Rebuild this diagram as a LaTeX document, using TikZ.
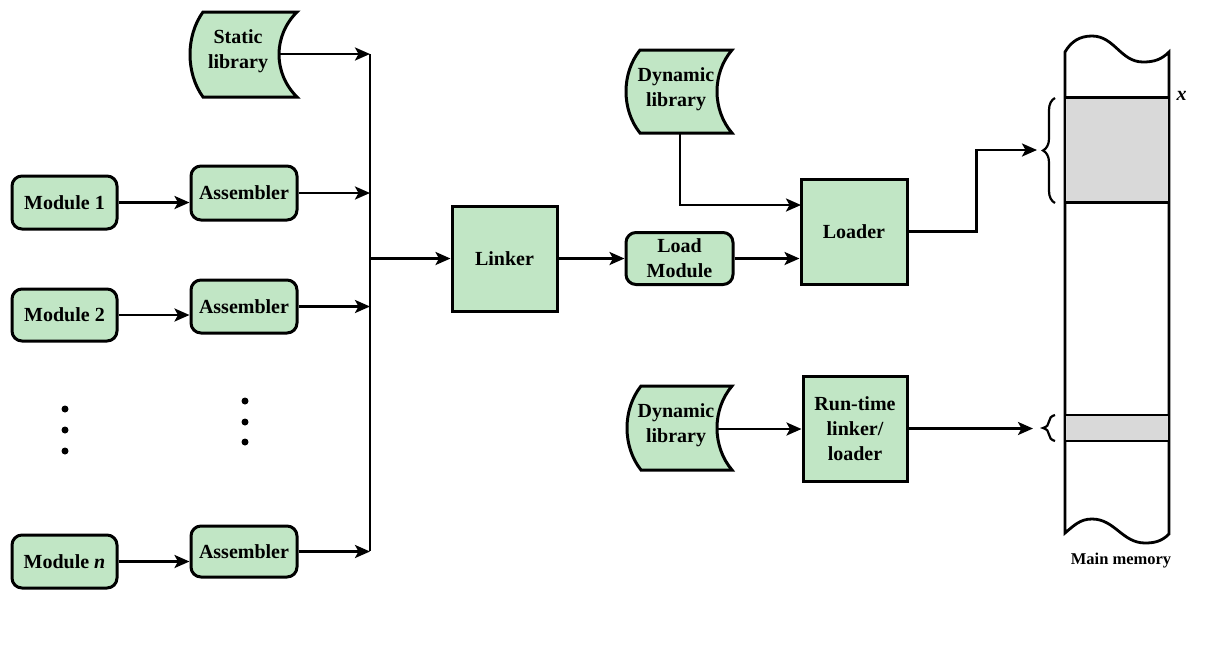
\documentclass[tikz,border=0pt]{standalone}
\usepackage{fontspec}
\setmainfont{Liberation Serif}
\usetikzlibrary{arrows.meta,decorations.pathreplacing}
\definecolor{boxgreen}{RGB}{193,230,197}
\definecolor{memgray}{RGB}{217,217,217}
\tikzset{
  txt/.style={font=\fontsize{20}{25}\selectfont\bfseries, align=center},
  box/.style={draw, line width=3pt, fill=boxgreen},
  rbox/.style={box, txt, rounded corners=10pt, minimum width=105pt, minimum height=53pt, inner sep=0pt},
  sqbox/.style={box, txt, minimum width=105pt, minimum height=105pt, inner sep=0pt},
  arr/.style={line width=2.6pt, -{Stealth[length=15pt,width=13pt,inset=3.5pt]}},
  plain/.style={line width=2.6pt},
  memline/.style={line width=2.8pt},
  brc/.style={line width=2.2pt, decorate, decoration={brace, amplitude=12pt}},
  dot/.style={fill=black},
}
% xl, xr, top, bot, indent, depth
\newcommand\storedshape[6]{%
  \filldraw[box] ({#1+#5},#3) -- (#2,#3)
    .. controls ({#2-4*#6/3},{#3+0.28*(#4-#3)}) and ({#2-4*#6/3},{#4-0.28*(#4-#3)}) .. (#2,#4)
    -- ({#1+#5},#4)
    .. controls ({#1-#5/3},{#4-0.28*(#4-#3)}) and ({#1-#5/3},{#3+0.28*(#4-#3)}) .. cycle;}
\begin{document}
\begin{tikzpicture}[x=1pt,y=-1pt]
\useasboundingbox (0,0) rectangle (1212,646);

% stored-data shapes
\storedshape{190}{297}{12}{97}{13}{18}
\node[txt] (slib) at (238,51) {Static\\library};
\coordinate (slib-e) at (279,54);

\storedshape{626}{732}{50}{133}{14}{15}
\node[txt] (dl1) at (676,89) {Dynamic\\library};
\coordinate (dl1-s) at (680,133);

\storedshape{627}{732}{386}{470}{14}{15}
\node[txt] (dl2) at (676,425) {Dynamic\\library};
\coordinate (dl2-e) at (717,429);

% modules and assemblers
\node[rbox] (mod1) at (64.5,202.5) {Module 1};
\node[rbox, minimum height=52pt] (mod2) at (64.5,315) {Module 2};
\node[rbox] (modn) at (64.5,561.5) {Module \textit{n}};
\node[rbox, minimum width=106pt, minimum height=54pt] (asm1) at (244,193) {Assembler};
\node[rbox, minimum width=106pt] (asm2) at (244,306.5) {Assembler};
\node[rbox, minimum width=106pt, minimum height=51pt] (asmn) at (244,551.5) {Assembler};

% dots
\foreach \y in {409,430,451} \fill[dot] (65,\y) circle (3.5);
\foreach \y in {401,422,442} \fill[dot] (245,\y) circle (3.5);

% bus
\coordinate (bustop) at (370,54);
\coordinate (busbot) at (370,551);
\draw[plain] (bustop) -- (busbot);

% main blocks
\node[sqbox] (linker) at (504.5,258.5) {Linker};
\node[rbox, minimum width=107pt, minimum height=52pt] (lm) at (679.5,258.5) {Load\\Module};
\node[sqbox, minimum width=106pt] (loader) at (854,231.5) {Loader};
\node[sqbox, minimum width=104pt] (rt) at (855,428.5) {Run-time\\linker/\\loader};

% connectors
\draw[arr] (mod1.east) -- (mod1.east -| asm1.west);
\draw[arr] (mod2.east) -- (mod2.east -| asm2.west);
\draw[arr] (modn.east) -- (modn.east -| asmn.west);
\draw[arr] (slib-e) -- (slib-e -| bustop);
\draw[arr] (asm1.east) -- (asm1.east -| bustop);
\draw[arr] (asm2.east) -- (asm2.east -| bustop);
\draw[arr] (asmn.east) -- (asmn.east -| bustop);
\draw[arr] (linker.west -| bustop) -- (linker.west);
\draw[arr] (linker.east) -- (lm.west);
\draw[arr] (lm.east) -- (lm.east -| loader.west);
\coordinate (ldin) at (801,205);
\draw[arr] (dl1-s) |- (ldin);
\draw[arr] (dl2-e) -- (dl2-e -| rt.west);

% main memory
\filldraw[memline, fill=white] (1065,52) to[out=60,in=180] (1092,36) to[out=0,in=180] (1143,62) to[out=0,in=225] (1169,52)
  -- (1169,534) to[out=225,in=0] (1145,543) to[out=180,in=0] (1092,519) to[out=180,in=40] (1065,533) -- cycle;
\node[draw, memline, fill=memgray, minimum width=104pt, minimum height=105pt, inner sep=0pt] (mem1) at (1117,150) {};
\node[draw, memline, fill=memgray, minimum width=104pt, minimum height=26pt, inner sep=0pt] (mem2) at (1117,428) {};
\node[font=\fontsize{20}{22}\selectfont\bfseries\itshape, anchor=west] (xlbl) at (1173,96) {x};
\node[font=\fontsize{16.5}{19}\selectfont\bfseries] (mmlbl) at (1121,561) {Main memory};

\draw[brc] (1055,203) -- (1055,98);
\draw[brc] (1055,441) -- (1055,415);
\coordinate (br1) at (1037,150);
\coordinate (br2) at (1033,428);

\draw[arr] (loader.east) -- ++(68,0) |- (br1);
\draw[arr] (rt.east) -- (rt.east -| br2);
\end{tikzpicture}
\end{document}
